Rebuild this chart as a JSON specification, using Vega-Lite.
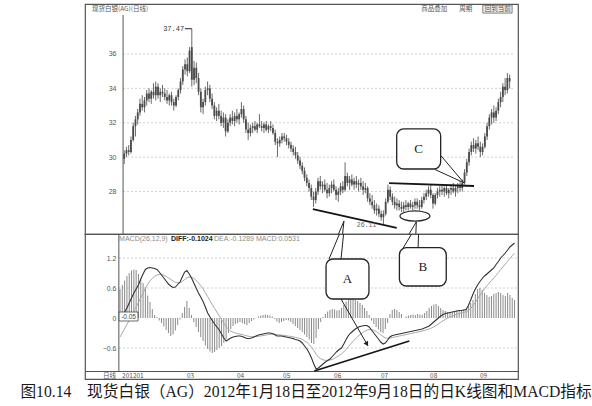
{
"$schema": "https://vega.github.io/schema/vega-lite/v6.json",
"padding": {"left": 20, "top": 3, "right": 0, "bottom": 0},
"background": "white",
"bounds": "flush",
"config": {"view": {"stroke": "#555", "strokeWidth": 1.2}, "font": "Liberation Sans", "axis": {"labelFont": "Liberation Sans"}},
"title": {"text": "图10.14　现货白银（AG）2012年1月18日至2012年9月18日的日K线图和MACD指标", "orient": "bottom", "anchor": "start", "dx": -64, "offset": 5, "fontSize": 15.7, "font": "Liberation Serif, Noto Sans CJK SC", "fontWeight": "normal", "color": "#1a1a1a"},
"spacing": 0,
"datasets": {
"k": [
{"i":0,"o":29.9,"h":30.4,"l":29.6,"c":30.2},{"i":1,"o":30.2,"h":30.6,"l":30.0,"c":30.4},{"i":2,"o":30.4,"h":30.7,"l":30.1,"c":30.3},{"i":3,"o":30.3,"h":31.2,"l":30.2,"c":31.0},{"i":4,"o":31.0,"h":32.0,"l":30.9,"c":31.8},{"i":5,"o":31.8,"h":32.4,"l":31.2,"c":32.2},{"i":6,"o":32.2,"h":32.8,"l":31.9,"c":32.6},{"i":7,"o":32.6,"h":33.4,"l":32.4,"c":33.1},{"i":8,"o":33.1,"h":33.6,"l":32.7,"c":32.9},{"i":9,"o":32.9,"h":33.5,"l":32.6,"c":33.3},
{"i":10,"o":33.3,"h":33.9,"l":33.0,"c":33.7},{"i":11,"o":33.7,"h":34.0,"l":33.2,"c":33.4},{"i":12,"o":33.4,"h":33.9,"l":33.1,"c":33.8},{"i":13,"o":33.8,"h":34.3,"l":33.4,"c":33.6},{"i":14,"o":33.6,"h":34.4,"l":33.3,"c":34.1},{"i":15,"o":34.1,"h":34.3,"l":33.4,"c":33.6},{"i":16,"o":33.6,"h":34.0,"l":33.2,"c":33.8},{"i":17,"o":33.8,"h":34.2,"l":33.5,"c":33.7},{"i":18,"o":33.7,"h":34.0,"l":33.3,"c":33.5},{"i":19,"o":33.5,"h":33.9,"l":33.1,"c":33.3},
{"i":20,"o":33.3,"h":33.7,"l":33.0,"c":33.6},{"i":21,"o":33.6,"h":33.8,"l":33.0,"c":33.2},{"i":22,"o":33.2,"h":33.4,"l":32.7,"c":33.0},{"i":23,"o":33.0,"h":33.6,"l":32.9,"c":33.5},{"i":24,"o":33.5,"h":34.0,"l":33.3,"c":33.9},{"i":25,"o":33.9,"h":34.6,"l":33.7,"c":34.4},{"i":26,"o":34.4,"h":35.3,"l":34.2,"c":35.1},{"i":27,"o":35.1,"h":35.7,"l":34.8,"c":35.4},{"i":28,"o":35.4,"h":35.8,"l":34.7,"c":35.0},{"i":29,"o":35.0,"h":36.4,"l":34.9,"c":36.2},
{"i":30,"o":36.4,"h":37.47,"l":34.1,"c":34.5},{"i":31,"o":34.5,"h":35.6,"l":34.2,"c":35.2},{"i":32,"o":35.2,"h":35.5,"l":34.3,"c":34.6},{"i":33,"o":34.6,"h":34.9,"l":33.6,"c":33.8},{"i":34,"o":33.8,"h":34.0,"l":32.6,"c":32.9},{"i":35,"o":32.9,"h":33.4,"l":32.5,"c":33.2},{"i":36,"o":33.2,"h":34.1,"l":33.0,"c":33.9},{"i":37,"o":33.9,"h":34.4,"l":33.6,"c":34.0},{"i":38,"o":34.0,"h":34.2,"l":33.2,"c":33.4},{"i":39,"o":33.4,"h":33.7,"l":32.8,"c":33.0},
{"i":40,"o":33.0,"h":33.2,"l":32.2,"c":32.4},{"i":41,"o":32.4,"h":32.9,"l":32.1,"c":32.7},{"i":42,"o":32.7,"h":33.1,"l":32.2,"c":32.4},{"i":43,"o":32.4,"h":32.7,"l":31.8,"c":32.0},{"i":44,"o":32.0,"h":32.6,"l":31.7,"c":32.3},{"i":45,"o":32.3,"h":32.5,"l":31.2,"c":31.5},{"i":46,"o":31.5,"h":32.2,"l":31.4,"c":32.0},{"i":47,"o":32.0,"h":32.5,"l":31.8,"c":32.3},{"i":48,"o":32.3,"h":32.7,"l":31.9,"c":32.1},{"i":49,"o":32.1,"h":32.6,"l":31.8,"c":32.4},
{"i":50,"o":32.4,"h":32.8,"l":32.0,"c":32.2},{"i":51,"o":32.2,"h":32.6,"l":31.9,"c":32.5},{"i":52,"o":32.5,"h":33.2,"l":32.3,"c":32.8},{"i":53,"o":32.8,"h":33.0,"l":32.0,"c":32.2},{"i":54,"o":32.2,"h":32.4,"l":31.4,"c":31.6},{"i":55,"o":31.6,"h":32.0,"l":31.0,"c":31.4},{"i":56,"o":31.4,"h":31.9,"l":31.2,"c":31.7},{"i":57,"o":31.7,"h":32.0,"l":31.4,"c":31.8},{"i":58,"o":31.8,"h":32.1,"l":31.5,"c":31.6},{"i":59,"o":31.6,"h":32.0,"l":31.4,"c":31.9},
{"i":60,"o":31.9,"h":32.5,"l":31.7,"c":31.8},{"i":61,"o":31.8,"h":32.1,"l":31.5,"c":31.7},{"i":62,"o":31.7,"h":32.0,"l":31.4,"c":31.9},{"i":63,"o":31.9,"h":32.1,"l":31.5,"c":31.6},{"i":64,"o":31.6,"h":31.9,"l":31.4,"c":31.8},{"i":65,"o":31.8,"h":32.1,"l":31.5,"c":31.7},{"i":66,"o":31.7,"h":31.9,"l":31.3,"c":31.4},{"i":67,"o":31.4,"h":31.6,"l":30.7,"c":30.9},{"i":68,"o":30.9,"h":31.1,"l":30.0,"c":30.8},{"i":69,"o":30.8,"h":31.2,"l":30.6,"c":31.0},
{"i":70,"o":31.0,"h":31.4,"l":30.8,"c":31.2},{"i":71,"o":31.2,"h":31.4,"l":30.9,"c":31.1},{"i":72,"o":31.1,"h":31.3,"l":30.7,"c":30.9},{"i":73,"o":30.9,"h":31.1,"l":30.5,"c":30.7},{"i":74,"o":30.7,"h":30.9,"l":30.3,"c":30.5},{"i":75,"o":30.5,"h":30.7,"l":30.1,"c":30.3},{"i":76,"o":30.3,"h":30.6,"l":29.9,"c":30.1},{"i":77,"o":30.1,"h":30.3,"l":29.6,"c":29.8},{"i":78,"o":29.8,"h":30.0,"l":29.3,"c":29.5},{"i":79,"o":29.5,"h":29.7,"l":29.0,"c":29.2},
{"i":80,"o":29.2,"h":29.4,"l":28.6,"c":28.8},{"i":81,"o":28.8,"h":29.0,"l":28.3,"c":28.5},{"i":82,"o":28.5,"h":28.7,"l":28.0,"c":28.2},{"i":83,"o":28.2,"h":28.4,"l":27.5,"c":27.7},{"i":84,"o":27.7,"h":28.0,"l":27.1,"c":27.5},{"i":85,"o":27.5,"h":28.2,"l":27.3,"c":28.0},{"i":86,"o":28.0,"h":28.8,"l":27.8,"c":28.6},{"i":87,"o":28.6,"h":28.9,"l":28.1,"c":28.3},{"i":88,"o":28.3,"h":28.6,"l":27.9,"c":28.4},{"i":89,"o":28.4,"h":28.7,"l":28.0,"c":28.1},
{"i":90,"o":28.1,"h":28.5,"l":27.6,"c":27.9},{"i":91,"o":27.9,"h":28.4,"l":27.7,"c":28.2},{"i":92,"o":28.2,"h":28.6,"l":27.9,"c":28.4},{"i":93,"o":28.4,"h":28.7,"l":28.0,"c":28.1},{"i":94,"o":28.1,"h":28.3,"l":27.5,"c":27.8},{"i":95,"o":27.8,"h":28.2,"l":27.4,"c":28.0},{"i":96,"o":28.0,"h":28.5,"l":27.8,"c":28.3},{"i":97,"o":28.3,"h":28.6,"l":27.9,"c":28.1},{"i":98,"o":28.1,"h":29.7,"l":28.0,"c":28.9},{"i":99,"o":28.9,"h":29.1,"l":28.3,"c":28.5},
{"i":100,"o":28.5,"h":28.9,"l":28.1,"c":28.7},{"i":101,"o":28.7,"h":29.0,"l":28.3,"c":28.4},{"i":102,"o":28.4,"h":28.8,"l":28.1,"c":28.6},{"i":103,"o":28.6,"h":28.9,"l":28.2,"c":28.4},{"i":104,"o":28.4,"h":28.7,"l":28.0,"c":28.5},{"i":105,"o":28.5,"h":28.8,"l":28.1,"c":28.3},{"i":106,"o":28.3,"h":28.6,"l":27.8,"c":28.1},{"i":107,"o":28.1,"h":28.5,"l":27.9,"c":28.2},{"i":108,"o":28.2,"h":28.3,"l":27.4,"c":27.6},{"i":109,"o":27.6,"h":27.9,"l":27.2,"c":27.4},
{"i":110,"o":27.4,"h":27.8,"l":27.0,"c":27.2},{"i":111,"o":27.2,"h":27.5,"l":26.7,"c":26.9},{"i":112,"o":26.9,"h":27.3,"l":26.6,"c":27.0},{"i":113,"o":27.0,"h":27.2,"l":26.5,"c":26.7},{"i":114,"o":26.7,"h":26.9,"l":26.3,"c":26.5},{"i":115,"o":26.5,"h":26.9,"l":26.11,"c":26.7},{"i":116,"o":26.7,"h":27.6,"l":26.6,"c":27.4},{"i":117,"o":27.4,"h":28.4,"l":27.3,"c":28.1},{"i":118,"o":28.1,"h":28.3,"l":27.5,"c":27.7},{"i":119,"o":27.7,"h":27.9,"l":27.2,"c":27.4},
{"i":120,"o":27.4,"h":27.7,"l":27.0,"c":27.2},{"i":121,"o":27.2,"h":27.6,"l":26.9,"c":27.3},{"i":122,"o":27.3,"h":27.5,"l":26.9,"c":27.1},{"i":123,"o":27.1,"h":27.4,"l":26.8,"c":27.0},{"i":124,"o":27.0,"h":27.4,"l":26.8,"c":27.2},{"i":125,"o":27.2,"h":27.5,"l":26.9,"c":27.1},{"i":126,"o":27.1,"h":27.4,"l":26.9,"c":27.3},{"i":127,"o":27.3,"h":27.5,"l":27.0,"c":27.1},{"i":128,"o":27.1,"h":27.4,"l":26.9,"c":27.2},{"i":129,"o":27.2,"h":27.6,"l":27.0,"c":27.4},
{"i":130,"o":27.4,"h":27.6,"l":27.0,"c":27.2},{"i":131,"o":27.2,"h":27.5,"l":26.9,"c":27.1},{"i":132,"o":27.1,"h":27.7,"l":27.0,"c":27.5},{"i":133,"o":27.5,"h":27.9,"l":27.3,"c":27.7},{"i":134,"o":27.7,"h":28.1,"l":27.5,"c":27.9},{"i":135,"o":27.9,"h":28.3,"l":27.7,"c":28.1},{"i":136,"o":28.1,"h":28.4,"l":27.6,"c":27.8},{"i":137,"o":27.8,"h":27.9,"l":27.0,"c":27.3},{"i":138,"o":27.3,"h":27.9,"l":27.2,"c":27.8},{"i":139,"o":27.8,"h":28.2,"l":27.6,"c":28.0},
{"i":140,"o":28.0,"h":28.3,"l":27.7,"c":28.1},{"i":141,"o":28.1,"h":28.4,"l":27.8,"c":28.0},{"i":142,"o":28.0,"h":28.3,"l":27.7,"c":28.2},{"i":143,"o":28.2,"h":28.4,"l":27.8,"c":27.9},{"i":144,"o":27.9,"h":28.2,"l":27.6,"c":28.1},{"i":145,"o":28.1,"h":28.4,"l":27.8,"c":28.2},{"i":146,"o":28.2,"h":28.5,"l":27.9,"c":28.0},{"i":147,"o":28.0,"h":28.3,"l":27.7,"c":28.2},{"i":148,"o":28.2,"h":28.5,"l":27.9,"c":28.3},{"i":149,"o":28.3,"h":28.6,"l":28.0,"c":28.2},
{"i":150,"o":28.2,"h":28.7,"l":28.0,"c":28.5},{"i":151,"o":28.5,"h":29.3,"l":28.4,"c":29.1},{"i":152,"o":29.1,"h":29.9,"l":28.9,"c":29.7},{"i":153,"o":29.7,"h":30.5,"l":29.5,"c":30.3},{"i":154,"o":30.3,"h":30.9,"l":30.1,"c":30.7},{"i":155,"o":30.7,"h":31.1,"l":30.3,"c":30.5},{"i":156,"o":30.5,"h":31.0,"l":30.2,"c":30.8},{"i":157,"o":30.8,"h":31.2,"l":30.4,"c":30.6},{"i":158,"o":30.6,"h":30.9,"l":30.0,"c":30.3},{"i":159,"o":30.3,"h":30.8,"l":30.1,"c":30.6},
{"i":160,"o":30.6,"h":31.4,"l":30.5,"c":31.2},{"i":161,"o":31.2,"h":32.0,"l":31.0,"c":31.8},{"i":162,"o":31.8,"h":32.5,"l":31.6,"c":32.3},{"i":163,"o":32.3,"h":32.8,"l":31.9,"c":32.6},{"i":164,"o":32.6,"h":33.0,"l":32.0,"c":32.3},{"i":165,"o":32.3,"h":32.9,"l":32.1,"c":32.7},{"i":166,"o":32.7,"h":33.4,"l":32.5,"c":33.2},{"i":167,"o":33.2,"h":33.8,"l":32.9,"c":33.5},{"i":168,"o":33.5,"h":34.3,"l":33.2,"c":34.1},{"i":169,"o":34.1,"h":34.6,"l":33.6,"c":33.9},
{"i":170,"o":33.9,"h":34.9,"l":33.7,"c":34.6},{"i":171,"o":34.6,"h":34.8,"l":34.0,"c":34.4}
],
"mc": [
{"i":0,"d":-0.05,"e":-0.38,"m":0.58},{"i":1,"d":0.03,"e":-0.3,"m":0.66},{"i":2,"d":0.12,"e":-0.215,"m":0.75},{"i":3,"d":0.2,"e":-0.131,"m":0.84},{"i":4,"d":0.3,"e":-0.045,"m":0.9},{"i":5,"d":0.4,"e":0.044,"m":0.95},{"i":6,"d":0.5,"e":0.135,"m":0.97},{"i":7,"d":0.58,"e":0.224,"m":0.96},{"i":8,"d":0.66,"e":0.311,"m":0.88},{"i":9,"d":0.78,"e":0.405,"m":0.77},
{"i":10,"d":0.88,"e":0.5,"m":0.7},{"i":11,"d":0.97,"e":0.594,"m":0.62},{"i":12,"d":1.0,"e":0.675,"m":0.45},{"i":13,"d":1.01,"e":0.742,"m":0.32},{"i":14,"d":1.0,"e":0.794,"m":0.18},{"i":15,"d":0.99,"e":0.833,"m":0.06},{"i":16,"d":0.97,"e":0.86,"m":0.02},{"i":17,"d":0.92,"e":0.872,"m":-0.05},{"i":18,"d":0.86,"e":0.87,"m":-0.1},{"i":19,"d":0.8,"e":0.856,"m":-0.17},
{"i":20,"d":0.74,"e":0.833,"m":-0.24},{"i":21,"d":0.68,"e":0.802,"m":-0.3},{"i":22,"d":0.64,"e":0.77,"m":-0.36},{"i":23,"d":0.61,"e":0.738,"m":-0.33},{"i":24,"d":0.62,"e":0.714,"m":-0.25},{"i":25,"d":0.67,"e":0.705,"m":-0.14},{"i":26,"d":0.72,"e":0.708,"m":-0.03},{"i":27,"d":0.82,"e":0.73,"m":0.1},{"i":28,"d":0.92,"e":0.768,"m":0.22},{"i":29,"d":0.95,"e":0.804,"m":0.34},
{"i":30,"d":0.88,"e":0.819,"m":0.2},{"i":31,"d":0.8,"e":0.815,"m":0.06},{"i":32,"d":0.7,"e":0.792,"m":-0.08},{"i":33,"d":0.6,"e":0.754,"m":-0.18},{"i":34,"d":0.5,"e":0.703,"m":-0.28},{"i":35,"d":0.42,"e":0.646,"m":-0.38},{"i":36,"d":0.33,"e":0.583,"m":-0.46},{"i":37,"d":0.22,"e":0.51,"m":-0.55},{"i":38,"d":0.1,"e":0.428,"m":-0.62},{"i":39,"d":0.02,"e":0.346,"m":-0.67},
{"i":40,"d":-0.05,"e":0.267,"m":-0.7},{"i":41,"d":-0.12,"e":0.19,"m":-0.68},{"i":42,"d":-0.18,"e":0.116,"m":-0.64},{"i":43,"d":-0.24,"e":0.045,"m":-0.6},{"i":44,"d":-0.32,"e":-0.028,"m":-0.56},{"i":45,"d":-0.4,"e":-0.102,"m":-0.5},{"i":46,"d":-0.46,"e":-0.174,"m":-0.42},{"i":47,"d":-0.43,"e":-0.225,"m":-0.3},{"i":48,"d":-0.4,"e":-0.26,"m":-0.22},{"i":49,"d":-0.38,"e":-0.284,"m":-0.16},
{"i":50,"d":-0.37,"e":-0.301,"m":-0.12},{"i":51,"d":-0.36,"e":-0.313,"m":-0.1},{"i":52,"d":-0.36,"e":-0.322,"m":-0.08},{"i":53,"d":-0.37,"e":-0.332,"m":-0.1},{"i":54,"d":-0.39,"e":-0.344,"m":-0.12},{"i":55,"d":-0.41,"e":-0.357,"m":-0.14},{"i":56,"d":-0.41,"e":-0.368,"m":-0.1},{"i":57,"d":-0.4,"e":-0.374,"m":-0.06},{"i":58,"d":-0.38,"e":-0.375,"m":-0.03},{"i":59,"d":-0.36,"e":-0.372,"m":0.0},
{"i":60,"d":-0.34,"e":-0.366,"m":0.03},{"i":61,"d":-0.33,"e":-0.359,"m":0.05},{"i":62,"d":-0.32,"e":-0.351,"m":0.06},{"i":63,"d":-0.31,"e":-0.343,"m":0.07},{"i":64,"d":-0.3,"e":-0.334,"m":0.06},{"i":65,"d":-0.3,"e":-0.327,"m":0.05},{"i":66,"d":-0.31,"e":-0.324,"m":0.03},{"i":67,"d":-0.33,"e":-0.325,"m":-0.02},{"i":68,"d":-0.36,"e":-0.332,"m":-0.07},{"i":69,"d":-0.36,"e":-0.337,"m":-0.1},
{"i":70,"d":-0.36,"e":-0.342,"m":-0.08},{"i":71,"d":-0.37,"e":-0.347,"m":-0.06},{"i":72,"d":-0.38,"e":-0.354,"m":-0.04},{"i":73,"d":-0.39,"e":-0.361,"m":-0.05},{"i":74,"d":-0.4,"e":-0.369,"m":-0.08},{"i":75,"d":-0.41,"e":-0.377,"m":-0.12},{"i":76,"d":-0.43,"e":-0.388,"m":-0.16},{"i":77,"d":-0.44,"e":-0.398,"m":-0.2},{"i":78,"d":-0.46,"e":-0.41,"m":-0.24},{"i":79,"d":-0.5,"e":-0.428,"m":-0.28},
{"i":80,"d":-0.56,"e":-0.454,"m":-0.33},{"i":81,"d":-0.62,"e":-0.487,"m":-0.38},{"i":82,"d":-0.7,"e":-0.53,"m":-0.43},{"i":83,"d":-0.8,"e":-0.584,"m":-0.5},{"i":84,"d":-0.92,"e":-0.651,"m":-0.52},{"i":85,"d":-1.02,"e":-0.725,"m":-0.4},{"i":86,"d":-1.0,"e":-0.78,"m":-0.22},{"i":87,"d":-0.96,"e":-0.816,"m":-0.08},{"i":88,"d":-0.92,"e":-0.837,"m":0.02},{"i":89,"d":-0.88,"e":-0.846,"m":0.08},
{"i":90,"d":-0.85,"e":-0.847,"m":0.13},{"i":91,"d":-0.82,"e":-0.842,"m":0.16},{"i":92,"d":-0.77,"e":-0.828,"m":0.18},{"i":93,"d":-0.72,"e":-0.806,"m":0.17},{"i":94,"d":-0.67,"e":-0.779,"m":0.15},{"i":95,"d":-0.63,"e":-0.749,"m":0.16},{"i":96,"d":-0.6,"e":-0.719,"m":0.2},{"i":97,"d":-0.52,"e":-0.679,"m":0.26},{"i":98,"d":-0.43,"e":-0.629,"m":0.33},{"i":99,"d":-0.35,"e":-0.573,"m":0.37},
{"i":100,"d":-0.3,"e":-0.518,"m":0.38},{"i":101,"d":-0.26,"e":-0.466,"m":0.38},{"i":102,"d":-0.22,"e":-0.417,"m":0.36},{"i":103,"d":-0.19,"e":-0.372,"m":0.34},{"i":104,"d":-0.17,"e":-0.332,"m":0.3},{"i":105,"d":-0.16,"e":-0.298,"m":0.26},{"i":106,"d":-0.15,"e":-0.268,"m":0.2},{"i":107,"d":-0.15,"e":-0.244,"m":0.14},{"i":108,"d":-0.18,"e":-0.231,"m":0.06},{"i":109,"d":-0.24,"e":-0.233,"m":-0.05},
{"i":110,"d":-0.3,"e":-0.246,"m":-0.12},{"i":111,"d":-0.36,"e":-0.269,"m":-0.18},{"i":112,"d":-0.42,"e":-0.299,"m":-0.23},{"i":113,"d":-0.48,"e":-0.335,"m":-0.28},{"i":114,"d":-0.52,"e":-0.372,"m":-0.3},{"i":115,"d":-0.5,"e":-0.398,"m":-0.22},{"i":116,"d":-0.44,"e":-0.406,"m":-0.1},{"i":117,"d":-0.38,"e":-0.401,"m":0.08},{"i":118,"d":-0.35,"e":-0.391,"m":0.16},{"i":119,"d":-0.34,"e":-0.381,"m":0.18},
{"i":120,"d":-0.33,"e":-0.371,"m":0.16},{"i":121,"d":-0.32,"e":-0.361,"m":0.12},{"i":122,"d":-0.31,"e":-0.351,"m":0.08},{"i":123,"d":-0.3,"e":-0.341,"m":0.0},{"i":124,"d":-0.29,"e":-0.331,"m":0.03},{"i":125,"d":-0.28,"e":-0.321,"m":0.05},{"i":126,"d":-0.27,"e":-0.311,"m":0.06},{"i":127,"d":-0.26,"e":-0.301,"m":0.07},{"i":128,"d":-0.25,"e":-0.291,"m":0.06},{"i":129,"d":-0.24,"e":-0.281,"m":0.08},
{"i":130,"d":-0.23,"e":-0.271,"m":0.07},{"i":131,"d":-0.22,"e":-0.261,"m":0.06},{"i":132,"d":-0.2,"e":-0.249,"m":0.1},{"i":133,"d":-0.18,"e":-0.235,"m":0.14},{"i":134,"d":-0.16,"e":-0.22,"m":0.2},{"i":135,"d":-0.12,"e":-0.2,"m":0.24},{"i":136,"d":-0.08,"e":-0.176,"m":0.27},{"i":137,"d":-0.04,"e":-0.149,"m":0.28},{"i":138,"d":0.0,"e":-0.119,"m":0.24},{"i":139,"d":0.04,"e":-0.087,"m":0.2},
{"i":140,"d":0.07,"e":-0.056,"m":0.16},{"i":141,"d":0.09,"e":-0.027,"m":0.14},{"i":142,"d":0.1,"e":-0.002,"m":0.12},{"i":143,"d":0.11,"e":0.02,"m":0.1},{"i":144,"d":0.12,"e":0.04,"m":0.12},{"i":145,"d":0.13,"e":0.058,"m":0.14},{"i":146,"d":0.14,"e":0.074,"m":0.15},{"i":147,"d":0.15,"e":0.089,"m":0.14},{"i":148,"d":0.15,"e":0.101,"m":0.16},{"i":149,"d":0.16,"e":0.113,"m":0.17},
{"i":150,"d":0.17,"e":0.124,"m":0.18},{"i":151,"d":0.25,"e":0.149,"m":0.24},{"i":152,"d":0.36,"e":0.191,"m":0.3},{"i":153,"d":0.48,"e":0.249,"m":0.36},{"i":154,"d":0.58,"e":0.315,"m":0.48},{"i":155,"d":0.66,"e":0.384,"m":0.58},{"i":156,"d":0.73,"e":0.453,"m":0.6},{"i":157,"d":0.79,"e":0.52,"m":0.56},{"i":158,"d":0.84,"e":0.584,"m":0.5},{"i":159,"d":0.88,"e":0.643,"m":0.46},
{"i":160,"d":0.92,"e":0.698,"m":0.42},{"i":161,"d":0.96,"e":0.75,"m":0.44},{"i":162,"d":1.0,"e":0.8,"m":0.48},{"i":163,"d":1.07,"e":0.854,"m":0.5},{"i":164,"d":1.13,"e":0.909,"m":0.52},{"i":165,"d":1.2,"e":0.967,"m":0.5},{"i":166,"d":1.25,"e":1.024,"m":0.46},{"i":167,"d":1.3,"e":1.079,"m":0.44},{"i":168,"d":1.36,"e":1.135,"m":0.5},{"i":169,"d":1.42,"e":1.192,"m":0.46},
{"i":170,"d":1.46,"e":1.246,"m":0.4},{"i":171,"d":1.5,"e":1.297,"m":0.36}
],
"pg": [{"v":28},{"v":30},{"v":32},{"v":34},{"v":36}],
"mg": [{"v":1.2},{"v":0.6},{"v":-0.6}],
"xl": [{"x":-7.4,"t":"日线"},{"x":0.9,"t":"201201"},{"x":29,"t":"03"},{"x":50.7,"t":"04"},{"x":70.7,"t":"05"},{"x":92.8,"t":"06"},{"x":113.1,"t":"07"},{"x":134.4,"t":"08"},{"x":156,"t":"09"}],
"pthick": [{"x1":83.7,"y1":26.98,"x2":120.9,"y2":25.88},{"x1":117.5,"y1":28.49,"x2":155.2,"y2":28.32}],
"pthin": [{"x1":140.6,"y1":30.07,"x2":150.7,"y2":28.51},{"x1":137.7,"y1":29.29,"x2":150.7,"y2":28.51},{"x1":95.1,"y1":25.53,"x2":97.5,"y2":26.28},{"x1":96.9,"y1":25.53,"x2":97.5,"y2":26.28},{"x1":126.4,"y1":25.53,"x2":129.6,"y2":26.23},{"x1":129.4,"y1":25.53,"x2":129.6,"y2":26.23},{"x1":26.9,"y1":37.47,"x2":30.0,"y2":37.47}],
"pell": [{"x":129.0,"y":26.57}],
"pbox": [{"x1":120.9,"x2":140.4,"y1":29.31,"y2":31.64,"cx":130.65,"cy":30.47,"t":"C"}],
"ptl": [{"x":-14.3,"y":38.62,"t":"现货白银(AG)(日线)"},{"x":131.8,"y":38.62,"t":"商品叠加"},{"x":148.7,"y":38.62,"t":"周期"},{"x":160.0,"y":38.62,"t":"回到当前"}],
"pbtn": [{"x1":159.1,"x2":172.1,"y1":38.38,"y2":38.85}],
"pmax": [{"x":26.6,"y":37.47,"t":"37.47"}],
"pmin": [{"x":103.2,"y":26.07,"t":"26.11"}],
"mthick": [{"x1":84.2,"y1":-1.06,"x2":125.4,"y2":-0.46}],
"mthin": [{"x1":95.8,"y1":0.38,"x2":107.5,"y2":-0.56},{"x1":90.6,"y1":1.18,"x2":95.1,"y2":1.68},{"x1":95.8,"y1":1.18,"x2":96.9,"y2":1.68},{"x1":122.7,"y1":1.4,"x2":126.4,"y2":1.68},{"x1":129.2,"y1":1.4,"x2":129.4,"y2":1.68}],
"marrow": [{"x":106.85,"y":-0.508}],
"mbox": [{"x1":89.3,"x2":107.9,"y1":0.38,"y2":1.18,"cx":98.6,"cy":0.78,"t":"A"},{"x1":121.1,"x2":141.4,"y1":0.64,"y2":1.406,"cx":131.25,"cy":1.02,"t":"B"}],
"mcur": [{"x1":-0.4,"x2":7.8,"y1":-0.06,"y2":0.12,"cx":3.7,"cy":0.03,"t":"-0.05"}],
"mlab": [{"x":-0.4,"y":1.58,"t":"MACD(26,12,9)"},{"x":40.7,"y":1.58,"t":"DEA:-0.1289"},{"x":58.9,"y":1.58,"t":"MACD:0.0531"}],
"mlabb": [{"x":22.1,"y":1.58,"t":"DIFF:-0.1024"}]
},
"vconcat": [
{
"width": 433, "height": 230,
"layer": [
{"data": {"name": "pg"}, "mark": {"type": "rule", "color": "#c4c4c4", "strokeWidth": 0.8, "strokeDash": [2, 2]},
 "encoding": {
  "x": {"datum": -0.5, "type": "quantitative", "scale": {"domain": [-15.17, 172.5], "nice": false, "zero": false}, "axis": null},
  "x2": {"datum": 172.5},
  "y": {"field": "v", "type": "quantitative", "scale": {"domain": [25.527, 38.909], "nice": false, "zero": false},
   "axis": {"values": [28, 30, 32, 34, 36], "orient": "left", "offset": -34, "domain": false, "ticks": false, "tickSize": 0, "grid": false, "labelPadding": 3, "labelFontSize": 7, "labelColor": "#555", "title": null}}
 }},
{"data": {"values": [{}]}, "mark": {"type": "rule", "color": "#555", "strokeWidth": 1},
 "encoding": {"x": {"datum": -0.5, "type": "quantitative"}, "y": {"datum": 25.527, "type": "quantitative"}, "y2": {"datum": 38.27}}},
{"data": {"name": "k"}, "mark": {"type": "rule", "color": "#6a6a6a", "strokeWidth": 1},
 "encoding": {"x": {"field": "i", "type": "quantitative"}, "y": {"field": "l", "type": "quantitative"}, "y2": {"field": "h"}}},
{"data": {"name": "k"}, "mark": {"type": "bar", "color": "#4a4a4a", "size": 1.8},
 "encoding": {"x": {"field": "i", "type": "quantitative"}, "y": {"field": "o", "type": "quantitative"}, "y2": {"field": "c"}}},
{"data": {"name": "pthick"}, "mark": {"type": "rule", "color": "#151515", "strokeWidth": 1.8},
 "encoding": {"x": {"field": "x1", "type": "quantitative"}, "x2": {"field": "x2"}, "y": {"field": "y1", "type": "quantitative"}, "y2": {"field": "y2"}}},
{"data": {"name": "pthin"}, "mark": {"type": "rule", "color": "#222", "strokeWidth": 1},
 "encoding": {"x": {"field": "x1", "type": "quantitative"}, "x2": {"field": "x2"}, "y": {"field": "y1", "type": "quantitative"}, "y2": {"field": "y2"}}},
{"data": {"name": "pell"}, "mark": {"type": "point", "shape": "M-1,0A1,0.34,0,1,1,1,0A1,0.34,0,1,1,-1,0Z", "size": 900, "filled": false, "stroke": "#222", "strokeWidth": 1.2, "opacity": 1},
 "encoding": {"x": {"field": "x", "type": "quantitative"}, "y": {"field": "y", "type": "quantitative"}}},
{"data": {"name": "pbox"}, "mark": {"type": "rect", "fill": "white", "stroke": "#222", "strokeWidth": 1.3, "cornerRadius": 7},
 "encoding": {"x": {"field": "x1", "type": "quantitative"}, "x2": {"field": "x2"}, "y": {"field": "y1", "type": "quantitative"}, "y2": {"field": "y2"}}},
{"data": {"name": "pbox"}, "mark": {"type": "text", "font": "Liberation Serif", "fontSize": 13, "color": "#222"},
 "encoding": {"x": {"field": "cx", "type": "quantitative"}, "y": {"field": "cy", "type": "quantitative"}, "text": {"field": "t"}}},
{"data": {"name": "pbtn"}, "mark": {"type": "rect", "fill": "#eeeeee", "stroke": "#666", "strokeWidth": 0.8},
 "encoding": {"x": {"field": "x1", "type": "quantitative"}, "x2": {"field": "x2"}, "y": {"field": "y1", "type": "quantitative"}, "y2": {"field": "y2"}}},
{"data": {"name": "ptl"}, "mark": {"type": "text", "align": "left", "baseline": "middle", "fontSize": 6.5, "color": "#555", "font": "Noto Sans CJK SC"},
 "encoding": {"x": {"field": "x", "type": "quantitative"}, "y": {"field": "y", "type": "quantitative"}, "text": {"field": "t"}}},
{"data": {"name": "pmax"}, "mark": {"type": "text", "align": "right", "baseline": "middle", "fontSize": 7, "color": "#333", "font": "Liberation Mono"},
 "encoding": {"x": {"field": "x", "type": "quantitative"}, "y": {"field": "y", "type": "quantitative"}, "text": {"field": "t"}}},
{"data": {"name": "pmin"}, "mark": {"type": "text", "align": "left", "baseline": "middle", "fontSize": 6.5, "color": "#666", "font": "Liberation Mono"},
 "encoding": {"x": {"field": "x", "type": "quantitative"}, "y": {"field": "y", "type": "quantitative"}, "text": {"field": "t"}}}
]
},
{
"width": 433, "height": 145,
"layer": [
{"data": {"name": "mg"}, "mark": {"type": "rule", "color": "#c4c4c4", "strokeWidth": 0.8, "strokeDash": [2, 2]},
 "encoding": {
  "x": {"datum": -0.5, "type": "quantitative", "scale": {"domain": [-15.17, 172.5], "nice": false, "zero": false}},
  "x2": {"datum": 172.5},
  "y": {"field": "v", "type": "quantitative", "scale": {"domain": [-1.22, 1.68], "nice": false, "zero": false},
   "axis": {"values": [1.2, 0.6, 0, -0.6], "orient": "left", "offset": -34, "domain": false, "ticks": false, "tickSize": 0, "grid": false, "labelPadding": 3, "labelFontSize": 7, "labelColor": "#555", "title": null, "labelExpr": "datum.value == 0 ? '0' : format(datum.value, '.1f')"}}
 }},
{"data": {"name": "mc"}, "mark": {"type": "rule", "color": "#8a8a8a", "strokeWidth": 1},
 "encoding": {
  "x": {"field": "i", "type": "quantitative",
   "axis": {"orient": "bottom", "offset": -8, "labels": false, "ticks": false, "tickSize": 0, "grid": false, "domain": true, "domainColor": "#555", "domainWidth": 1, "title": null}},
  "y": {"field": "m", "type": "quantitative"}, "y2": {"datum": 0}}},
{"data": {"name": "mc"}, "mark": {"type": "line", "color": "#a8a8a8", "strokeWidth": 1},
 "encoding": {"x": {"field": "i", "type": "quantitative"}, "y": {"field": "e", "type": "quantitative"}}},
{"data": {"name": "mc"}, "mark": {"type": "line", "color": "#333", "strokeWidth": 1.1},
 "encoding": {"x": {"field": "i", "type": "quantitative"}, "y": {"field": "d", "type": "quantitative"}}},
{"data": {"values": [{}]}, "mark": {"type": "rule", "color": "#555", "strokeWidth": 1},
 "encoding": {"x": {"datum": -0.5, "type": "quantitative"}, "y": {"datum": -1.06, "type": "quantitative"}, "y2": {"datum": 1.68}}},
{"data": {"name": "xl"}, "mark": {"type": "text", "align": "left", "baseline": "middle", "fontSize": 6.5, "color": "#555", "font": "Noto Sans CJK SC"},
 "encoding": {"x": {"field": "x", "type": "quantitative"}, "y": {"datum": -1.15, "type": "quantitative"}, "text": {"field": "t"}}},
{"data": {"name": "mthick"}, "mark": {"type": "rule", "color": "#151515", "strokeWidth": 1.8},
 "encoding": {"x": {"field": "x1", "type": "quantitative"}, "x2": {"field": "x2"}, "y": {"field": "y1", "type": "quantitative"}, "y2": {"field": "y2"}}},
{"data": {"name": "mthin"}, "mark": {"type": "rule", "color": "#222", "strokeWidth": 1},
 "encoding": {"x": {"field": "x1", "type": "quantitative"}, "x2": {"field": "x2"}, "y": {"field": "y1", "type": "quantitative"}, "y2": {"field": "y2"}}},
{"data": {"name": "marrow"}, "mark": {"type": "point", "shape": "triangle", "size": 28, "filled": true, "color": "#222", "angle": 150, "opacity": 1},
 "encoding": {"x": {"field": "x", "type": "quantitative"}, "y": {"field": "y", "type": "quantitative"}}},
{"data": {"name": "mbox"}, "mark": {"type": "rect", "fill": "white", "stroke": "#222", "strokeWidth": 1.3, "cornerRadius": 7},
 "encoding": {"x": {"field": "x1", "type": "quantitative"}, "x2": {"field": "x2"}, "y": {"field": "y1", "type": "quantitative"}, "y2": {"field": "y2"}}},
{"data": {"name": "mbox"}, "mark": {"type": "text", "font": "Liberation Serif", "fontSize": 13, "color": "#222"},
 "encoding": {"x": {"field": "cx", "type": "quantitative"}, "y": {"field": "cy", "type": "quantitative"}, "text": {"field": "t"}}},
{"data": {"name": "mcur"}, "mark": {"type": "rect", "fill": "white", "stroke": "#444", "strokeWidth": 0.8},
 "encoding": {"x": {"field": "x1", "type": "quantitative"}, "x2": {"field": "x2"}, "y": {"field": "y1", "type": "quantitative"}, "y2": {"field": "y2"}}},
{"data": {"name": "mcur"}, "mark": {"type": "text", "fontSize": 6.5, "color": "#444"},
 "encoding": {"x": {"field": "cx", "type": "quantitative"}, "y": {"field": "cy", "type": "quantitative"}, "text": {"field": "t"}}},
{"data": {"name": "mlab"}, "mark": {"type": "text", "align": "left", "baseline": "middle", "fontSize": 7, "color": "#8c8c8c"},
 "encoding": {"x": {"field": "x", "type": "quantitative"}, "y": {"field": "y", "type": "quantitative"}, "text": {"field": "t"}}},
{"data": {"name": "mlabb"}, "mark": {"type": "text", "align": "left", "baseline": "middle", "fontSize": 7, "color": "#222", "fontWeight": "bold"},
 "encoding": {"x": {"field": "x", "type": "quantitative"}, "y": {"field": "y", "type": "quantitative"}, "text": {"field": "t"}}}
]
}
]
}
